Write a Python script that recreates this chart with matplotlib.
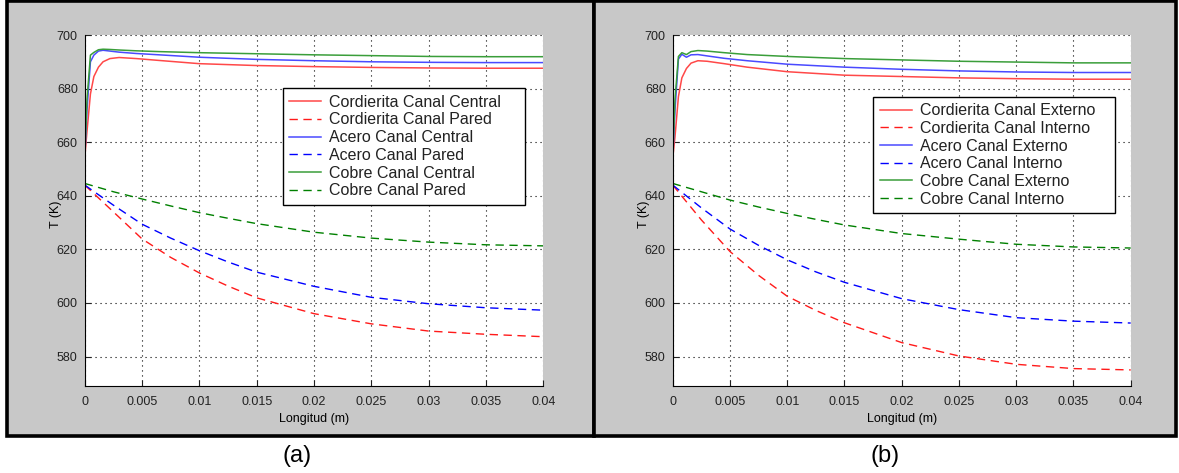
import numpy as np
import matplotlib.pyplot as plt
from matplotlib.patches import Rectangle

plt.rcParams['font.family'] = ['Liberation Sans', 'DejaVu Sans']

# Longitud (m) - puntos para los canales centrales/externos (subida rapida al inicio)
x_sol = [0, 0.0002, 0.0005, 0.0008, 0.0012, 0.0016, 0.0022, 0.003, 0.0045,
         0.0065, 0.01, 0.015, 0.02, 0.025, 0.03, 0.035, 0.04]
# Longitud (m) - puntos para los canales de pared/internos
x_das = [0, 0.0025, 0.005, 0.0075, 0.01, 0.0125, 0.015, 0.02, 0.025, 0.03, 0.035, 0.04]

# (a) temperaturas (K)
a_cord_central = [654, 664, 678, 684.5, 688, 690, 691.2, 691.6, 691.2, 690.5, 689.3,
                  688.6, 688.2, 687.9, 687.7, 687.6, 687.6]
a_acero_central = [654, 672, 690, 692.5, 694, 694.3, 694, 693.6, 693.1, 692.6, 691.7,
                   690.9, 690.4, 690.0, 689.8, 689.7, 689.7]
a_cobre_central = [654, 676, 692.5, 693.5, 694.5, 694.7, 694.6, 694.4, 694.1, 693.8, 693.4,
                   693.0, 692.6, 692.3, 692.0, 691.9, 691.9]
a_cord_pared = [644, 634, 623.9, 617, 611.2, 606.3, 601.9, 596.0, 592.2, 589.5, 588.3, 587.4]
a_acero_pared = [644, 636.5, 629.4, 624.2, 619.5, 615.3, 611.5, 606.2, 602.1, 599.7, 598.2, 597.3]
a_cobre_pared = [644.6, 641.5, 638.8, 636.2, 633.7, 631.6, 629.6, 626.4, 624.2, 622.7, 621.7, 621.3]

# (b) temperaturas (K)
b_cord_ext = [654, 662, 677, 684, 687.5, 689.5, 690.4, 690.2, 689.3, 688.0, 686.3,
              685.0, 684.5, 684.0, 683.7, 683.5, 683.5]
b_acero_ext = [654, 672, 691, 692.8, 691.7, 692.6, 692.7, 692.2, 691.3, 690.4, 689.1,
               688.0, 687.2, 686.6, 686.2, 686.0, 686.0]
b_cobre_ext = [654, 676, 692, 693.4, 692.7, 693.8, 694.2, 694.0, 693.4, 692.7, 692.0,
               691.2, 690.7, 690.2, 689.9, 689.6, 689.6]
b_cord_int = [644, 631, 619.2, 610.3, 602.5, 597.2, 592.6, 585.2, 580.2, 577.1, 575.5, 575.0]
b_acero_int = [644, 635.5, 627.6, 621.5, 616.1, 611.6, 607.7, 601.6, 597.5, 594.5, 593.2, 592.5]
b_cobre_int = [644.6, 641.5, 638.4, 635.8, 633.4, 631.2, 629.1, 625.9, 623.8, 621.9, 620.9, 620.5]

labels_a = ['Cordierita Canal Central', 'Cordierita Canal Pared', 'Acero Canal Central',
            'Acero Canal Pared', 'Cobre Canal Central', 'Cobre Canal Pared']
labels_b = ['Cordierita Canal Externo', 'Cordierita Canal Interno', 'Acero Canal Externo',
            'Acero Canal Interno', 'Cobre Canal Externo', 'Cobre Canal Interno']

xticks = [0, 0.005, 0.01, 0.015, 0.02, 0.025, 0.03, 0.035, 0.04]
xticklabels = ['0', '0.005', '0.01', '0.015', '0.02', '0.025', '0.03', '0.035', '0.04']
yticks = [580, 600, 620, 640, 660, 680, 700]

W, H = 1179, 473
fig = plt.figure(figsize=(11.79, 4.73), dpi=100)

# grey panels with thick black frames
for x0, x1 in [(7, 593.5), (593.5, 1175.5)]:
    fig.patches.append(Rectangle((x0 / W, (H - 436) / H), (x1 - x0) / W, 434.5 / H,
                                 transform=fig.transFigure, facecolor='#c8c8c8',
                                 edgecolor='black', linewidth=2.6, zorder=-1))


def panel(rect, sol, das, labels, leg_box):
    ax = fig.add_axes(rect, zorder=1)
    c_sol = ['#ff4848', '#4a4aff', '#3a9e3a']
    c_das = ['#ff1a1a', '#0000ff', '#008000']
    for i in range(3):
        ax.plot(x_sol, sol[i], color=c_sol[i], lw=1.1, label=labels[2 * i])
        ax.plot(x_das, das[i], color=c_das[i], lw=1.0, dashes=(6, 4), label=labels[2 * i + 1])
    ax.set_xlim(0, 0.04)
    ax.set_ylim(569, 700)
    ax.set_xticks(xticks)
    ax.set_xticklabels(xticklabels)
    ax.set_yticks(yticks)
    ax.tick_params(direction='in', length=4, labelsize=9, colors='#222222')
    ax.tick_params(axis='x', pad=7)
    ax.tick_params(axis='y', pad=5)
    ax.grid(True, color='black', linestyle=(0, (1, 3.5)), linewidth=0.8)
    ax.spines['top'].set_visible(False)
    ax.spines['right'].set_visible(False)
    ax.set_xlabel('Longitud (m)', fontsize=9, labelpad=4)
    ax.set_ylabel('T (K)', fontsize=9)
    ax.yaxis.set_label_coords(-0.05, 0.49)
    leg = ax.legend(loc='upper left', bbox_to_anchor=leg_box, mode='expand', fontsize=11.5,
                    frameon=True, fancybox=False, framealpha=1, edgecolor='black',
                    borderaxespad=0, handlelength=2.0, labelspacing=0.17,
                    borderpad=0.4, handletextpad=0.5)
    leg.get_frame().set_linewidth(1.0)
    for t in leg.get_texts():
        t.set_color('#222222')
    return ax


ax_h = 351 / H
ax_b = (H - 386) / H
panel([84.7 / W, ax_b, 458.6 / W, ax_h],
      [a_cord_central, a_acero_central, a_cobre_central],
      [a_cord_pared, a_acero_pared, a_cobre_pared], labels_a, (0.432, 0.5, 0.528, 0.348))
panel([672.7 / W, ax_b, 458.0 / W, ax_h],
      [b_cord_ext, b_acero_ext, b_cobre_ext],
      [b_cord_int, b_acero_int, b_cobre_int], labels_b, (0.438, 0.47, 0.528, 0.354))

fig.text(297 / W, (H - 456) / H, '(a)', ha='center', va='center', fontsize=17)
fig.text(885 / W, (H - 456) / H, '(b)', ha='center', va='center', fontsize=17)

fig.savefig('out.png', dpi=100)
